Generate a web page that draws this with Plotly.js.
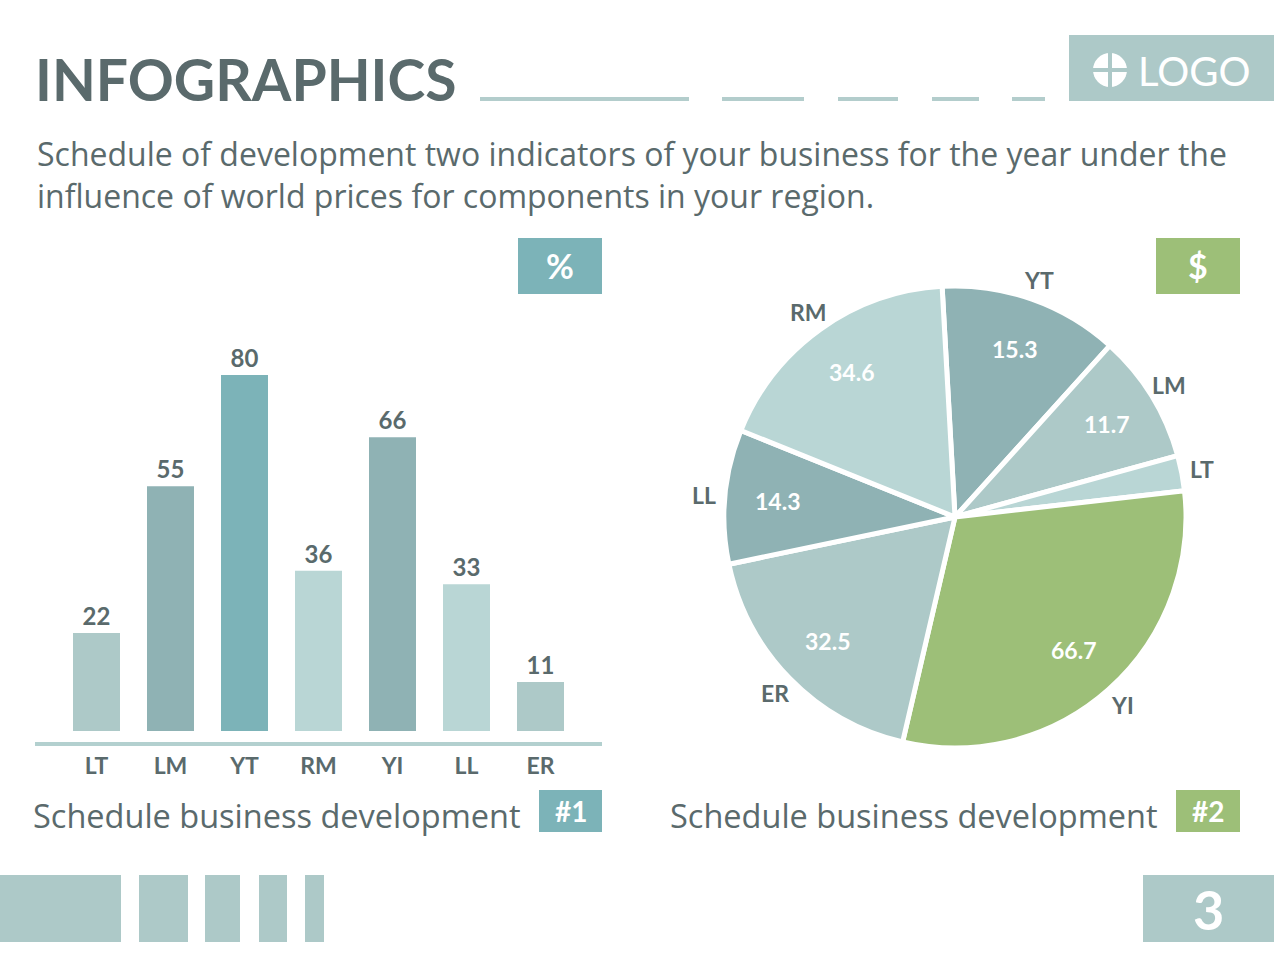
<!DOCTYPE html>
<html>
<head>
<meta charset="utf-8">
<script src="https://cdn.plot.ly/plotly-3.0.1.min.js"></script>
<style>
  html, body { margin: 0; padding: 0; background: #ffffff; }
  #chart { width: 1274px; height: 980px; }
</style>
</head>
<body>
<div id="chart"></div>
<script>
// ---------- DATA ----------
var barCategories = ['LT', 'LM', 'YT', 'RM', 'YI', 'LL', 'ER'];
var barValues = [22, 55, 80, 36, 66, 33, 11];

var pieCategories = ['YT', 'LM', 'LT', 'YI', 'ER', 'LL', 'RM'];
// slice sizes (share of the full circle, in degrees of arc)
var pieShares = [45.3, 32.5, 8.9, 109.6, 65.1, 33.8, 64.8];
// numbers printed inside the slices
var pieNumbers = ['15.3', '11.7', '', '66.7', '32.5', '14.3', '34.6'];

var titleText = 'INFOGRAPHICS';
var subtitleLines = [
  'Schedule of development two indicators of your business for the year under the',
  'influence of world prices for components in your region.'
];
var captionText = 'Schedule business development';
var pageNumber = '3';

// ---------- STYLE ----------
var W = 1274, H = 980;
var FONT = 'Lato, "Open Sans", sans-serif';
var BODY = '"Open Sans", Lato, sans-serif';
var TXT = '#5a6a6c';
var C_TEAL = '#7cb3b8';
var C_MID = '#8fb2b4';
var C_SOFT = '#adc9c8';
var C_LIGHT = '#b9d6d5';
var C_GREEN = '#9dbf78';

var barColors = [C_SOFT, C_MID, C_TEAL, C_LIGHT, C_MID, C_LIGHT, C_SOFT];
var pieColors = [C_MID, C_SOFT, C_LIGHT, C_GREEN, C_SOFT, C_MID, C_LIGHT];

function px(x) { return x / W; }
function py(y) { return 1 - y / H; }

function rect(x0, y0, x1, y1, color) {
  return { type: 'rect', xref: 'paper', yref: 'paper',
    x0: px(x0), x1: px(x1), y0: py(y1), y1: py(y0),
    fillcolor: color, line: { width: 0 }, layer: 'below' };
}
function hline(x0, x1, y, color, w) {
  return { type: 'line', xref: 'paper', yref: 'paper',
    x0: px(x0), x1: px(x1), y0: py(y), y1: py(y),
    line: { color: color, width: w } };
}
function label(text, x, y, size, color, xanchor, weight, family) {
  return { text: text, xref: 'paper', yref: 'paper', x: px(x), y: py(y),
    xanchor: xanchor || 'center', yanchor: 'middle', showarrow: false, align: 'left',
    font: { family: family || FONT, size: size, color: color, weight: weight || 400 } };
}

// ---------- TRACES ----------
var barTrace = {
  type: 'bar', x: barCategories, y: barValues,
  xaxis: 'x', yaxis: 'y',
  marker: { color: barColors, line: { width: 0 } },
  text: barValues.map(String), textposition: 'outside', cliponaxis: false,
  textfont: { family: FONT, size: 24, color: TXT, weight: 700 },
  hoverinfo: 'x+y'
};

var pieCx = 955, pieCy = 517, pieR = 231;
var pieTrace = {
  type: 'pie', labels: pieCategories, values: pieShares,
  sort: false, direction: 'clockwise', rotation: -3.2,
  textinfo: 'none', showlegend: false,
  marker: { colors: pieColors, line: { color: '#ffffff', width: 5 } },
  domain: { x: [px(pieCx - pieR), px(pieCx + pieR)], y: [py(pieCy + pieR), py(pieCy - pieR)] },
  hoverinfo: 'label'
};

// ---------- SHAPES ----------
var shapes = [
  // header underline dashes
  hline(480, 689, 99, '#b3cdcc', 4),
  hline(722, 804, 99, '#b3cdcc', 4),
  hline(838, 898, 99, '#b3cdcc', 4),
  hline(932, 979, 99, '#b3cdcc', 4),
  hline(1012, 1045, 99, '#b3cdcc', 4),
  // logo box
  rect(1069, 35, 1274, 101, C_SOFT),
  { type: 'circle', xref: 'paper', yref: 'paper', x0: px(1093), x1: px(1127), y0: py(87), y1: py(53),
    fillcolor: '#ffffff', line: { width: 0 } },
  { type: 'line', xref: 'paper', yref: 'paper', x0: px(1110), x1: px(1110), y0: py(87), y1: py(53),
    line: { color: C_SOFT, width: 4 } },
  { type: 'line', xref: 'paper', yref: 'paper', x0: px(1093), x1: px(1127), y0: py(70), y1: py(70),
    line: { color: C_SOFT, width: 4 } },
  // unit badges
  rect(518, 238, 602, 294, C_TEAL),
  rect(1156, 238, 1240, 294, C_GREEN),
  // caption badges
  rect(539, 790, 602, 832, C_TEAL),
  rect(1176, 790, 1240, 832, C_GREEN),
  // bar baseline
  hline(35, 602, 744, '#b3d0cf', 4),
  // footer
  rect(0, 875, 121, 942, C_SOFT),
  rect(139, 875, 188, 942, C_SOFT),
  rect(205, 875, 240, 942, C_SOFT),
  rect(259, 875, 287, 942, C_SOFT),
  rect(305, 875, 324, 942, C_SOFT),
  rect(1143, 875, 1274, 942, C_SOFT)
];

// ---------- ANNOTATIONS ----------
var annotations = [
  label(titleText, 33, 79, 57, TXT, 'left', 700),
  label(subtitleLines.join('<br>'), 35, 174, 32, TXT, 'left', 400, BODY),
  label('LOGO', 1194, 71, 40, '#ffffff', 'center', 400),
  label('%', 560, 266, 34, '#ffffff', 'center', 700),
  label('$', 1198, 266, 34, '#ffffff', 'center', 700),
  label(captionText, 31, 815, 32.5, TXT, 'left', 400, BODY),
  label('#1', 571, 811, 28, '#ffffff', 'center', 700),
  label(captionText, 668, 815, 32.5, TXT, 'left', 400, BODY),
  label('#2', 1208, 811, 28, '#ffffff', 'center', 700),
  label(pageNumber, 1208, 909, 54, '#ffffff', 'center', 700)
];

// pie labels placed at the middle angle of each slice
var totalShare = pieShares.reduce(function (a, b) { return a + b; }, 0);
var acc = 0;
pieShares.forEach(function (s, i) {
  var mid = (-3.2 + (acc + s / 2) / totalShare * 360) * Math.PI / 180;
  acc += s;
  var rin = pieR * 0.77, rout = pieR * 1.09;
  if (pieNumbers[i]) {
    annotations.push(label(pieNumbers[i], pieCx + rin * Math.sin(mid), pieCy - rin * Math.cos(mid), 23, '#ffffff', 'center', 700));
  }
  annotations.push(label(pieCategories[i], pieCx + rout * Math.sin(mid), pieCy - rout * Math.cos(mid), 23, TXT, 'center', 700));
});

// ---------- LAYOUT ----------
var pxPerUnit = (731 - 375) / 80;
var yMin = -(744 - 731) / pxPerUnit;
var yMax = yMin + (744 - 240) / pxPerUnit;

var layout = {
  width: W, height: H,
  margin: { l: 0, r: 0, t: 0, b: 0 },
  paper_bgcolor: '#ffffff', plot_bgcolor: 'rgba(0,0,0,0)',
  showlegend: false,
  bargap: 0.365,
  xaxis: {
    domain: [px(35), px(602)], range: [-0.831, 6.831],
    showgrid: false, zeroline: false, showline: false, ticks: '',
    tickfont: { family: FONT, size: 23, color: TXT, weight: 700 },
    ticklabelstandoff: 6, fixedrange: true
  },
  yaxis: {
    domain: [py(744), py(240)], range: [yMin, yMax],
    showgrid: false, zeroline: false, showline: false, showticklabels: false, ticks: '',
    fixedrange: true
  },
  shapes: shapes,
  annotations: annotations
};

Plotly.newPlot('chart', [barTrace, pieTrace], layout, { displayModeBar: false, staticPlot: true });
</script>
</body>
</html>
